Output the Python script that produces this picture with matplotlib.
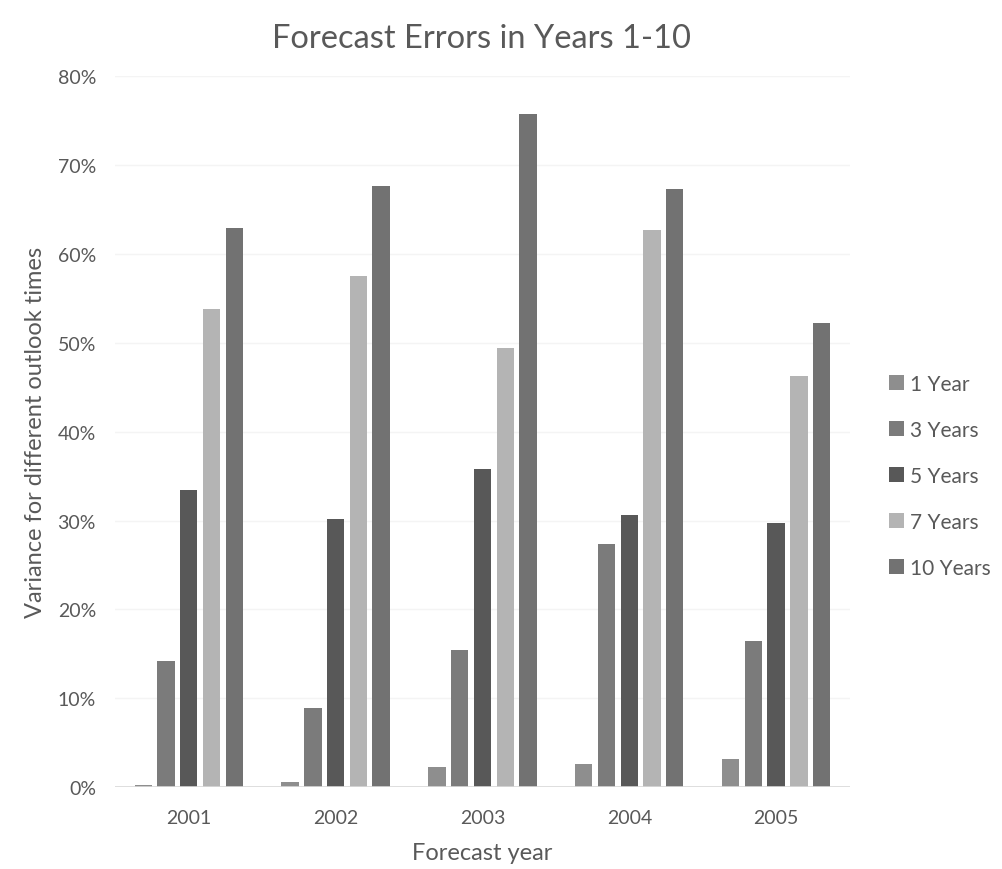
import numpy as np
import matplotlib
matplotlib.use("Agg")
import matplotlib.pyplot as plt
from matplotlib.ticker import PercentFormatter

# data (percent)
years = ["2001", "2002", "2003", "2004", "2005"]
series_names = ["1 Year", "3 Years", "5 Years", "7 Years", "10 Years"]
one_year = [0.2, 0.6, 2.3, 2.6, 3.2]
three_years = [14.2, 8.9, 15.4, 27.4, 16.5]
five_years = [33.4, 30.2, 35.8, 30.6, 29.7]
seven_years = [53.8, 57.5, 49.4, 62.7, 46.3]
ten_years = [62.9, 67.6, 75.7, 67.3, 52.2]
colors = ["#8e8e8e", "#7b7b7b", "#585858", "#b4b4b4", "#727272"]

plt.rcParams['font.family'] = ['Lato', 'DejaVu Sans']
txt = "#595959"

fig = plt.figure(figsize=(10.03, 8.70), dpi=100)
ax = fig.add_axes([0.115, 0.094, 0.732, 0.8175])

x = np.arange(len(years))
pitch = 0.155
width = 0.118
all_series = [one_year, three_years, five_years, seven_years, ten_years]
for i, (vals, name, c) in enumerate(zip(all_series, series_names, colors)):
    ax.bar(x + (i - 2) * pitch, vals, width, color=c, label=name, zorder=3)

ax.set_ylim(0, 80)
ax.set_xlim(-0.5, len(years) - 0.5)
ax.set_yticks(np.arange(0, 81, 10))
ax.yaxis.set_major_formatter(PercentFormatter(decimals=0))
ax.set_xticks(x)
ax.set_xticklabels(years)
ax.tick_params(length=0, labelsize=14, labelcolor=txt)
ax.tick_params(axis='y', pad=14)
ax.tick_params(axis='x', pad=16)
ax.grid(axis='y', color="#f4f4f4", linewidth=1, zorder=0)
for s in ax.spines.values():
    s.set_visible(False)
ax.axhline(0, color="#d9d9d9", linewidth=1.2, zorder=4)

ax.set_xlabel("Forecast year", fontsize=17, color=txt, labelpad=11)
ax.set_ylabel("Variance for different outlook times", fontsize=17, color=txt, labelpad=8)
fig.text(0.48, 0.955, "Forecast Errors in Years 1-10", fontsize=23.5, color=txt,
         ha='center', va='center')

fig.legend(loc='center left', bbox_to_anchor=(0.868, 0.452), frameon=False,
           fontsize=15, labelcolor=txt, handlelength=0.7, handleheight=0.7,
           handletextpad=0.3, labelspacing=1.25)

fig.savefig("out.png", dpi=100, facecolor="white")
